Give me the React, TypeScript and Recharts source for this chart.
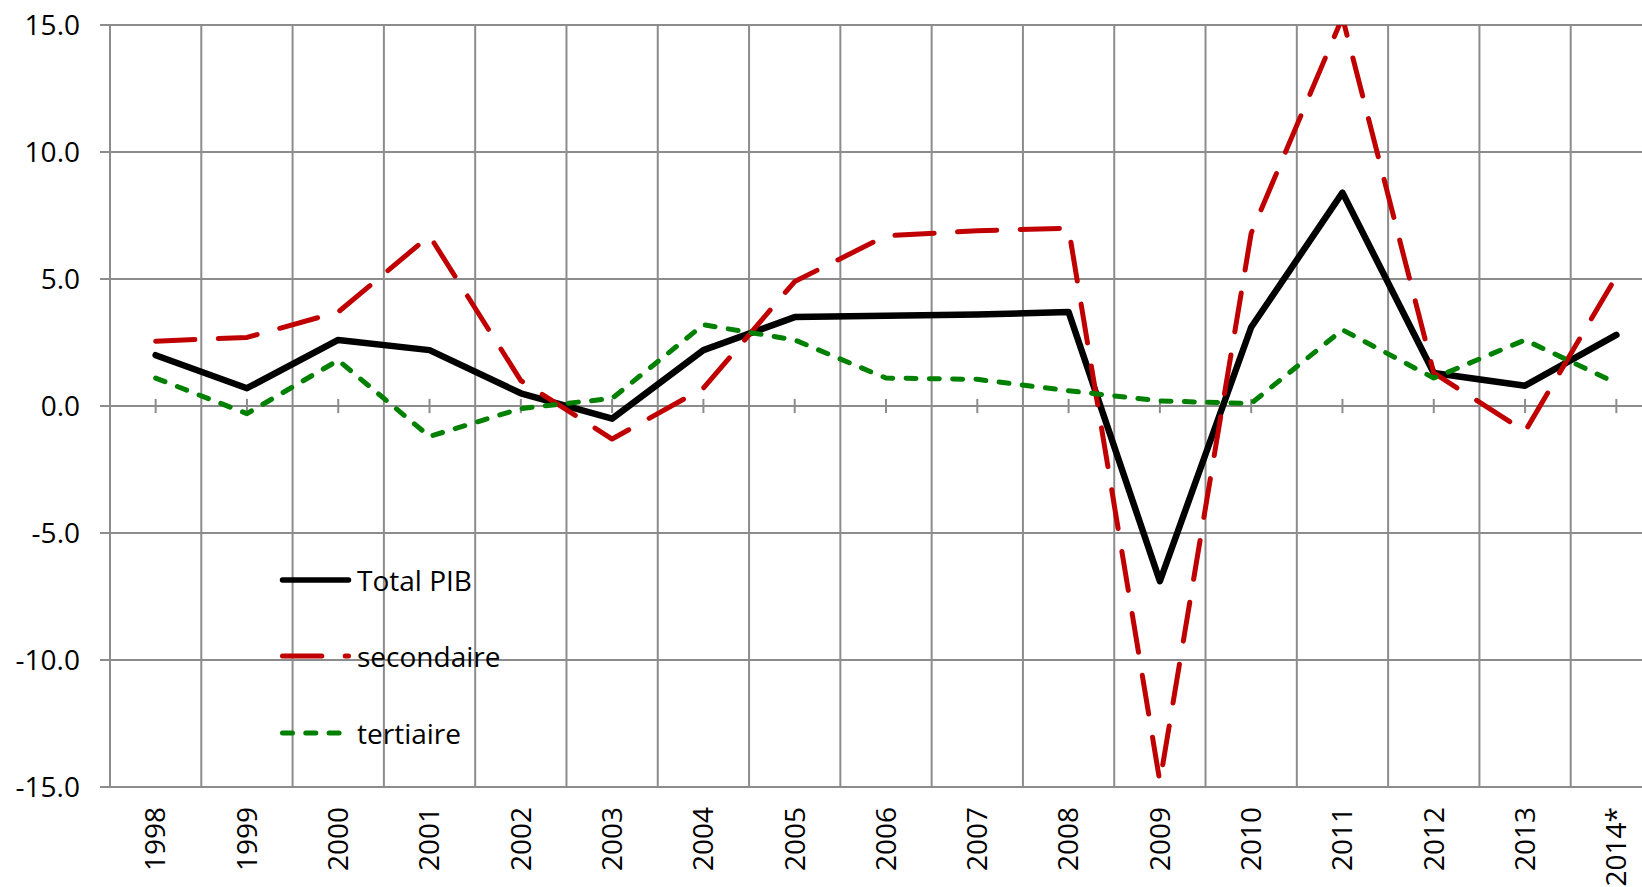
import {
  LineChart,
  Line,
  XAxis,
  YAxis,
  CartesianGrid,
  ReferenceLine,
  Legend
} from 'recharts'

const years = [
  '1998', '1999', '2000', '2001', '2002', '2003', '2004', '2005', '2006',
  '2007', '2008', '2009', '2010', '2011', '2012', '2013', '2014*',
]

const totalPib = [2.0, 0.7, 2.6, 2.2, 0.5, -0.5, 2.2, 3.5, 3.55, 3.6, 3.7, -6.9, 3.1, 8.4, 1.3, 0.8, 2.8]
const secondaire = [2.55, 2.7, 3.7, 6.7, 1.0, -1.3, 0.7, 4.9, 6.7, 6.9, 7.0, -14.8, 6.8, 15.3, 1.3, -1.0, 5.1]
const tertiaire = [1.1, -0.3, 1.8, -1.2, -0.1, 0.3, 3.2, 2.6, 1.1, 1.05, 0.6, 0.2, 0.1, 3.0, 1.1, 2.6, 0.9]

const yTicks = [-15, -10, -5, 0, 5, 10, 15]

const data = years.map((year, i) => ({
  year,
  total: totalPib[i],
  secondaire: secondaire[i],
  tertiaire: tertiaire[i],
}))

const FONT = '"Open Sans", sans-serif'
const GRID = '#8C8C8C'

const series = [
  { key: 'total', name: 'Total PIB', color: '#000000', width: 6.5, dash: undefined },
  { key: 'secondaire', name: 'secondaire', color: '#C00000', width: 5, dash: '39.3 23.4' },
  { key: 'tertiaire', name: 'tertiaire', color: '#008000', width: 5, dash: '10 13.3' },
]

function YearTick({ x, y, payload }: any) {
  return (
    <text
      x={x}
      y={y}
      dy="0.35em"
      textAnchor="end"
      transform={`rotate(-90, ${x}, ${y})`}
      fill="#000"
      fontSize={28}
      fontFamily={FONT}
    >
      {payload.value}
    </text>
  )
}

function LegendBox() {
  return (
    <div style={{ display: 'flex', flexDirection: 'column' }}>
      {series.map((s) => (
        <div key={s.key} style={{ height: 76.4, display: 'flex', alignItems: 'center' }}>
          <svg width={78} height={12} style={{ display: 'block' }}>
            <line
              x1={6.5}
              y1={6}
              x2={72.5}
              y2={6}
              stroke={s.color}
              strokeWidth={Math.min(s.width, 5.5)}
              strokeDasharray={s.dash}
              strokeLinecap="round"
            />
          </svg>
          <span
            style={{
              marginLeft: 3,
              fontSize: 28,
              fontFamily: FONT,
              color: '#000',
              lineHeight: 1,
              whiteSpace: 'nowrap',
            }}
          >
            {s.name}
          </span>
        </div>
      ))}
    </div>
  )
}

// vertical grid sits on category boundaries, not on the centres
function boundaryLines(props: any) {
  const { offset } = props
  const w = offset.width ?? props.width - offset.left - offset.right
  const n = years.length
  return Array.from({ length: n + 1 }, (_, i) => offset.left + (i * w) / n)
}

export default function App() {
  return (
    <div
      style={{
        position: 'absolute',
        left: 0,
        top: 0,
        width: 1642,
        height: 887,
        overflow: 'hidden',
        background: '#FFFFFF',
      }}
    >
      <LineChart
        width={1662}
        height={887}
        data={data}
        margin={{ top: 25, right: 0, bottom: 0, left: 0 }}
      >
        <CartesianGrid
          stroke={GRID}
          strokeWidth={2}
          verticalCoordinatesGenerator={boundaryLines}
        />

        <XAxis
          dataKey="year"
          scale="band"
          height={100}
          axisLine={false}
          tickLine={false}
          tickSize={0}
          tickMargin={20}
          interval={0}
          tick={<YearTick />}
        />

        <YAxis
          type="number"
          domain={[-15, 15]}
          ticks={yTicks}
          allowDataOverflow
          width={110}
          tickSize={10}
          tickMargin={20}
          axisLine={{ stroke: GRID, strokeWidth: 2 }}
          tickLine={{ stroke: GRID, strokeWidth: 2 }}
          tickFormatter={(v: number) => v.toFixed(1)}
          tick={{ fill: '#000', fontSize: 28, fontFamily: FONT }}
        />

        {years.map((yr) => (
          <ReferenceLine
            key={yr}
            segment={[{ x: yr, y: -0.28 }, { x: yr, y: 0.28 }]}
            stroke={GRID}
            strokeWidth={2}
          />
        ))}

        <Legend
          layout="vertical"
          align="center"
          verticalAlign="middle"
          wrapperStyle={{ left: 276, top: 541.8, width: 260 }}
          content={<LegendBox />}
        />

        {series.map((s) => (
          <Line
            key={s.key}
            type="linear"
            dataKey={s.key}
            name={s.name}
            stroke={s.color}
            strokeWidth={s.width}
            strokeDasharray={s.dash}
            strokeLinecap="round"
            strokeLinejoin="round"
            dot={false}
            activeDot={false}
            isAnimationActive={false}
          />
        ))}
      </LineChart>
    </div>
  )
}
